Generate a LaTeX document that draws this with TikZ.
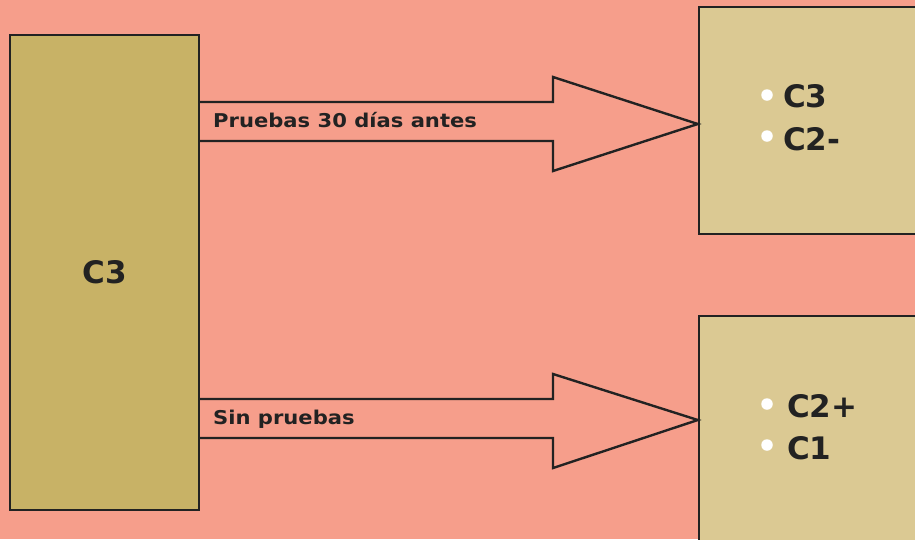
\documentclass[tikz,border=0pt]{standalone}
\usepackage{fontspec}
\setmainfont{DejaVu Sans}
\newfontfamily\widefont[FakeStretch=1.11]{DejaVu Sans}
\definecolor{bgc}{HTML}{F69E8B}
\definecolor{leftc}{HTML}{C8B266}
\definecolor{rightc}{HTML}{DBC993}
\definecolor{linec}{HTML}{222222}
\tikzset{
  boxL/.style={draw=linec, line width=2.4pt, fill=leftc, inner sep=0pt},
  boxR/.style={draw=linec, line width=2.4pt, fill=rightc, inner sep=0pt},
  bigarrow/.style={draw=linec, line width=2.4pt, fill=bgc, line join=miter},
  arrlabel/.style={font=\widefont\fontsize{19}{22}\selectfont\bfseries, text=linec, anchor=base west, inner sep=0pt},
  itemtxt/.style={font=\fontsize{31}{36}\selectfont\bfseries, text=linec, anchor=base west, inner sep=0pt},
  dot/.style={circle, fill=white, minimum size=11.5pt, inner sep=0pt}
}
\begin{document}
\begin{tikzpicture}[x=1pt,y=-1pt]
\useasboundingbox (0,0) rectangle (915,539);
\fill[bgc] (0,0) rectangle (915,539);
\clip (0,0) rectangle (915,539);
% boxes
\node[boxL, minimum width=189pt, minimum height=475pt] (lb) at (104.5,272.5) {};
\node[boxR, minimum width=236pt, minimum height=227pt] (rt) at (817,120.5) {};
\node[boxR, minimum width=236pt, minimum height=229pt] (rb) at (817,430.5) {};
\node[font=\fontsize{31}{36}\selectfont\bfseries, text=linec] (lbt) at (lb.center) {C3};
% arrows
\draw[bigarrow] (lb.east |- 0,102) -- (553,102) -- (553,77) -- (rt.west |- 0,124) -- (553,171) -- (553,141) -- (lb.east |- 0,141);
\draw[bigarrow] (lb.east |- 0,399) -- (553,399) -- (553,374) -- (rb.west |- 0,420) -- (553,468) -- (553,438) -- (lb.east |- 0,438);
\node[arrlabel] (l1) at (213,127) {Pruebas 30 días antes};
\node[arrlabel] (l2) at (213,424) {Sin pruebas};
% items
\node[dot] (d1) at (767,95) {};
\node[dot] (d2) at (767,136) {};
\node[dot] (d3) at (767,404) {};
\node[dot] (d4) at (767,445) {};
\node[itemtxt] (t1) at (783,107) {C3};
\node[itemtxt] (t2) at (783,150) {C2-};
\node[itemtxt] (t3) at (787,417) {C2+};
\node[itemtxt] (t4) at (787,459) {C1};
\end{tikzpicture}
\end{document}
